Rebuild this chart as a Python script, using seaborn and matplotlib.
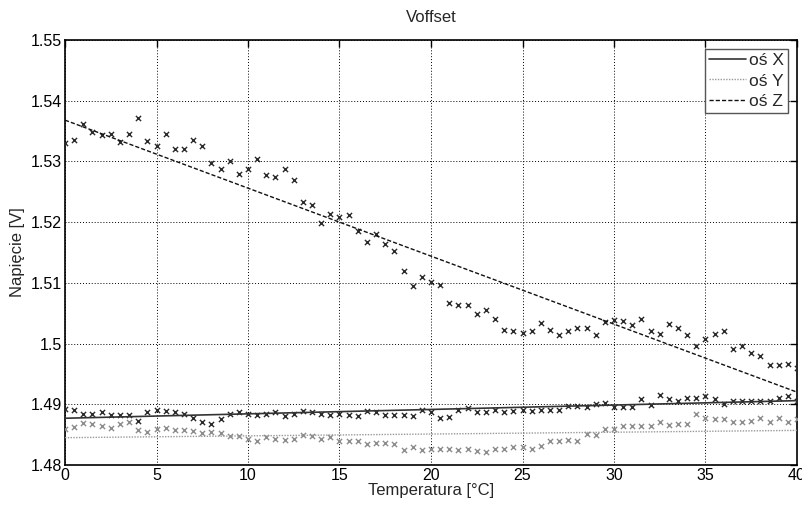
import numpy as np
import pandas as pd
import matplotlib
matplotlib.use("Agg")
import matplotlib.pyplot as plt
import seaborn as sns

temperature = [i * 0.5 for i in range(81)]

z_values = [1.5331, 1.5336, 1.5362, 1.5349, 1.5344, 1.5346, 1.5332, 1.5345, 1.5372, 1.5333,
            1.5325, 1.5345, 1.5320, 1.5320, 1.5336, 1.5326, 1.5297, 1.5288, 1.5300, 1.5280,
            1.5287, 1.5304, 1.5277, 1.5274, 1.5287, 1.5270, 1.5233, 1.5228, 1.5199, 1.5214,
            1.5209, 1.5211, 1.5185, 1.5167, 1.5180, 1.5164, 1.5152, 1.5119, 1.5095, 1.5110,
            1.5102, 1.5097, 1.5067, 1.5064, 1.5064, 1.5048, 1.5056, 1.5040, 1.5022, 1.5020,
            1.5018, 1.5020, 1.5034, 1.5023, 1.5014, 1.5020, 1.5026, 1.5025, 1.5014, 1.5035,
            1.5039, 1.5038, 1.5030, 1.5040, 1.5020, 1.5016, 1.5032, 1.5025, 1.5014, 1.4996,
            1.5007, 1.5016, 1.5021, 1.4991, 1.4996, 1.4984, 1.4979, 1.4964, 1.4964, 1.4967,
            1.4959]

x_values = [1.4893, 1.4890, 1.4884, 1.4884, 1.4888, 1.4883, 1.4883, 1.4882, 1.4873, 1.4888,
            1.4891, 1.4889, 1.4888, 1.4884, 1.4877, 1.4871, 1.4868, 1.4875, 1.4884, 1.4887,
            1.4884, 1.4882, 1.4884, 1.4888, 1.4880, 1.4884, 1.4889, 1.4888, 1.4884, 1.4883,
            1.4884, 1.4882, 1.4880, 1.4889, 1.4888, 1.4883, 1.4883, 1.4882, 1.4881, 1.4890,
            1.4888, 1.4877, 1.4879, 1.4891, 1.4894, 1.4887, 1.4887, 1.4891, 1.4888, 1.4889,
            1.4891, 1.4889, 1.4891, 1.4890, 1.4891, 1.4898, 1.4898, 1.4895, 1.4900, 1.4902,
            1.4896, 1.4896, 1.4895, 1.4909, 1.4899, 1.4916, 1.4909, 1.4906, 1.4910, 1.4911,
            1.4914, 1.4909, 1.4901, 1.4905, 1.4905, 1.4906, 1.4906, 1.4906, 1.4911, 1.4914,
            1.4905]

y_values = [1.4860, 1.4862, 1.4869, 1.4868, 1.4864, 1.4861, 1.4868, 1.4871, 1.4858, 1.4855,
            1.4859, 1.4861, 1.4857, 1.4857, 1.4856, 1.4853, 1.4855, 1.4853, 1.4847, 1.4848,
            1.4843, 1.4839, 1.4846, 1.4843, 1.4841, 1.4843, 1.4849, 1.4847, 1.4843, 1.4846,
            1.4840, 1.4839, 1.4839, 1.4834, 1.4837, 1.4836, 1.4835, 1.4824, 1.4830, 1.4825,
            1.4827, 1.4826, 1.4826, 1.4824, 1.4827, 1.4823, 1.4821, 1.4827, 1.4827, 1.4830,
            1.4829, 1.4827, 1.4831, 1.4839, 1.4840, 1.4841, 1.4840, 1.4851, 1.4849, 1.4860,
            1.4860, 1.4864, 1.4864, 1.4864, 1.4865, 1.4870, 1.4866, 1.4868, 1.4868, 1.4884,
            1.4877, 1.4876, 1.4875, 1.4870, 1.4871, 1.4872, 1.4877, 1.4871, 1.4877, 1.4871,
            1.4875]

fit_temperature = [0, 40]
x_fit = [1.4877, 1.4906]
y_fit = [1.4845, 1.4857]
z_fit = [1.5368, 1.4920]

series_labels = ["oś X", "oś Y", "oś Z"]
x_ticks = [0, 5, 10, 15, 20, 25, 30, 35, 40]
y_ticks = [1.48, 1.49, 1.50, 1.51, 1.52, 1.53, 1.54, 1.55]
y_tick_labels = ["1.48", "1.49", "1.5", "1.51", "1.52", "1.53", "1.54", "1.55"]

sns.set_style("white")
plt.rcParams["font.family"] = ["Liberation Sans", "DejaVu Sans"]

fig = plt.figure(figsize=(8.03, 5.09), dpi=100)
ax = fig.add_axes([65 / 803, 44 / 509, 732 / 803, 425 / 509])

pts = pd.DataFrame({"T": temperature, "X": x_values, "Y": y_values, "Z": z_values})
fits = pd.DataFrame({"T": fit_temperature, "X": x_fit, "Y": y_fit, "Z": z_fit})

dark = "#2a2a2a"
gray = "#8c8c8c"

sns.scatterplot(data=pts, x="T", y="X", ax=ax, marker="x", s=14, color=dark, linewidth=1.0, zorder=3)
sns.scatterplot(data=pts, x="T", y="Y", ax=ax, marker="x", s=14, color=gray, linewidth=1.0, zorder=3)
sns.scatterplot(data=pts, x="T", y="Z", ax=ax, marker="x", s=14, color=dark, linewidth=1.0, zorder=3)

sns.lineplot(data=fits, x="T", y="X", ax=ax, color="#333333", linewidth=1.2, label=series_labels[0], zorder=4)
sns.lineplot(data=fits, x="T", y="Y", ax=ax, color="#999999", linewidth=1.0, linestyle=(0, (1, 1)), label=series_labels[1], zorder=4)
sns.lineplot(data=fits, x="T", y="Z", ax=ax, color="#111111", linewidth=1.0, linestyle=(0, (3, 1.5)), label=series_labels[2], zorder=4)

ax.set_xlim(0, 40)
ax.set_ylim(1.48, 1.55)
ax.set_xticks(x_ticks)
ax.set_xticklabels([str(t) for t in x_ticks])
ax.set_yticks(y_ticks)
ax.set_yticklabels(y_tick_labels)

ax.grid(True, color="black", linestyle=(0, (1, 2)), linewidth=0.7)
ax.tick_params(direction="in", length=5, width=1, top=True, right=True, labelsize=11.5, pad=2, colors="black")
for sp in ax.spines.values():
    sp.set_visible(True)
    sp.set_color("black")
    sp.set_linewidth(1.2)

ax.set_xlabel("Temperatura [°C]", fontsize=12, labelpad=0)
ax.set_ylabel("Napięcie [V]", fontsize=12, labelpad=4)
ax.set_title("Voffset", fontsize=12, pad=13)

leg = ax.legend(loc="upper right", fontsize=12.5, frameon=True, fancybox=False, borderpad=0.25,
                handlelength=2.1, handletextpad=0.2, labelspacing=0.3, borderaxespad=0.5)
leg.get_frame().set_edgecolor("#555555")
leg.get_frame().set_linewidth(1.0)
leg.get_frame().set_facecolor("white")
leg.get_frame().set_alpha(1)

fig.savefig("out.png", dpi=100)
